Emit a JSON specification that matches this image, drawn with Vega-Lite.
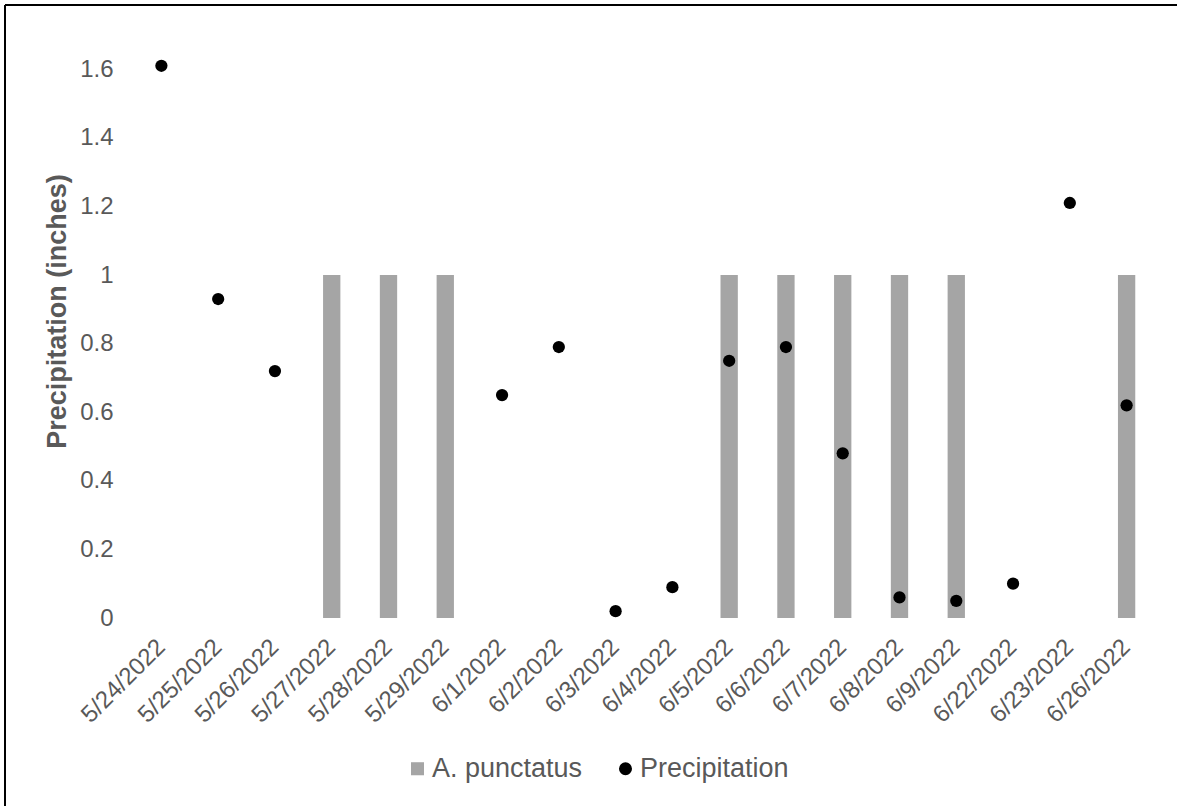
{
  "$schema": "https://vega.github.io/schema/vega-lite/v6.json",
  "width": 1172,
  "height": 801,
  "autosize": {"type": "none"},
  "padding": {"left": 5, "top": 5, "right": 0, "bottom": 0},
  "background": "#FFFFFF",
  "config": {
    "font": "Liberation Sans",
    "view": {"stroke": "#000000", "strokeWidth": 2, "strokeDash": [1172, 1973, 801, 0]},
    "axis": {
      "grid": false,
      "domain": false,
      "ticks": false,
      "tickSize": 0,
      "labelFont": "Liberation Sans",
      "labelColor": "#595959",
      "labelFontSize": 24,
      "titleFont": "Liberation Sans",
      "titleColor": "#595959"
    },
    "legend": {
      "labelFont": "Liberation Sans",
      "labelColor": "#595959",
      "labelFontSize": 27,
      "symbolStrokeWidth": 0,
      "padding": 0
    }
  },
  "data": {
    "values": [
      {"date": "5/24/2022", "series": "Precipitation", "value": 1.61},
      {"date": "5/25/2022", "series": "Precipitation", "value": 0.93},
      {"date": "5/26/2022", "series": "Precipitation", "value": 0.72},
      {"date": "5/27/2022", "series": "A. punctatus", "value": 1},
      {"date": "5/28/2022", "series": "A. punctatus", "value": 1},
      {"date": "5/29/2022", "series": "A. punctatus", "value": 1},
      {"date": "6/1/2022", "series": "Precipitation", "value": 0.65},
      {"date": "6/2/2022", "series": "Precipitation", "value": 0.79},
      {"date": "6/3/2022", "series": "Precipitation", "value": 0.02},
      {"date": "6/4/2022", "series": "Precipitation", "value": 0.09},
      {"date": "6/5/2022", "series": "A. punctatus", "value": 1},
      {"date": "6/5/2022", "series": "Precipitation", "value": 0.75},
      {"date": "6/6/2022", "series": "A. punctatus", "value": 1},
      {"date": "6/6/2022", "series": "Precipitation", "value": 0.79},
      {"date": "6/7/2022", "series": "A. punctatus", "value": 1},
      {"date": "6/7/2022", "series": "Precipitation", "value": 0.48},
      {"date": "6/8/2022", "series": "A. punctatus", "value": 1},
      {"date": "6/8/2022", "series": "Precipitation", "value": 0.06},
      {"date": "6/9/2022", "series": "A. punctatus", "value": 1},
      {"date": "6/9/2022", "series": "Precipitation", "value": 0.05},
      {"date": "6/22/2022", "series": "Precipitation", "value": 0.1},
      {"date": "6/23/2022", "series": "Precipitation", "value": 1.21},
      {"date": "6/26/2022", "series": "A. punctatus", "value": 1},
      {"date": "6/26/2022", "series": "Precipitation", "value": 0.62}
    ]
  },
  "encoding": {
    "x": {
      "field": "date",
      "type": "nominal",
      "sort": null,
      "scale": {
        "domain": ["5/24/2022", "5/25/2022", "5/26/2022", "5/27/2022", "5/28/2022", "5/29/2022", "6/1/2022", "6/2/2022", "6/3/2022", "6/4/2022", "6/5/2022", "6/6/2022", "6/7/2022", "6/8/2022", "6/9/2022", "6/22/2022", "6/23/2022", "6/26/2022"],
        "range": [128, 1150],
        "paddingInner": 0,
        "paddingOuter": 0
      },
      "axis": {
        "orient": "bottom",
        "offset": -188,
        "title": null,
        "labelAngle": -45,
        "labelAlign": "right",
        "labelBaseline": "middle",
        "labelPadding": 25,
        "labelOverlap": false
      }
    },
    "y": {
      "field": "value",
      "type": "quantitative",
      "scale": {"domain": [-0.5481, 1.7872], "nice": false, "zero": false},
      "axis": {
        "orient": "left",
        "offset": -128,
        "values": [0, 0.2, 0.4, 0.6, 0.8, 1, 1.2, 1.4, 1.6],
        "format": "~g",
        "labelPadding": 20,
        "title": "Precipitation (inches)",
        "titleFontSize": 27,
        "titleFontWeight": "bold",
        "titleAngle": -90,
        "titleAlign": "center",
        "titleBaseline": "bottom",
        "titleX": -62,
        "titleY": 306
      }
    }
  },
  "layer": [
    {
      "data": {"values": [{}]},
      "mark": {"type": "rule", "color": "#D9D9D9", "strokeWidth": 2},
      "encoding": {
        "x": {"datum": "5/24/2022", "type": "nominal", "bandPosition": 0},
        "x2": {"datum": "6/26/2022", "bandPosition": 1},
        "y": {"datum": 0, "type": "quantitative"}
      }
    },
    {
      "transform": [{"filter": "datum.series === 'A. punctatus'"}],
      "mark": {"type": "bar", "width": {"band": 0.305}},
      "encoding": {
        "color": {
          "field": "series",
          "type": "nominal",
          "scale": {"domain": ["A. punctatus", "Precipitation"], "range": ["#A5A5A5", "#000000"]},
          "legend": {
            "orient": "none",
            "legendX": 399,
            "legendY": 750,
            "direction": "horizontal",
            "title": null,
            "symbolSize": 170,
            "labelOffset": 1,
            "columnPadding": 29
          }
        }
      }
    },
    {
      "transform": [{"filter": "datum.series === 'Precipitation'"}],
      "mark": {"type": "point", "filled": true, "opacity": 1, "size": 150},
      "encoding": {
        "color": {
          "field": "series",
          "type": "nominal",
          "scale": {"domain": ["A. punctatus", "Precipitation"], "range": ["#A5A5A5", "#000000"]},
          "legend": {
            "orient": "none",
            "legendX": 399,
            "legendY": 750,
            "direction": "horizontal",
            "title": null,
            "symbolSize": 170,
            "labelOffset": 1,
            "columnPadding": 29
          }
        },
        "shape": {
          "field": "series",
          "type": "nominal",
          "scale": {"domain": ["A. punctatus", "Precipitation"], "range": ["square", "circle"]},
          "legend": {
            "orient": "none",
            "legendX": 399,
            "legendY": 750,
            "direction": "horizontal",
            "title": null,
            "symbolSize": 170,
            "labelOffset": 1,
            "columnPadding": 29
          }
        }
      }
    }
  ]
}
